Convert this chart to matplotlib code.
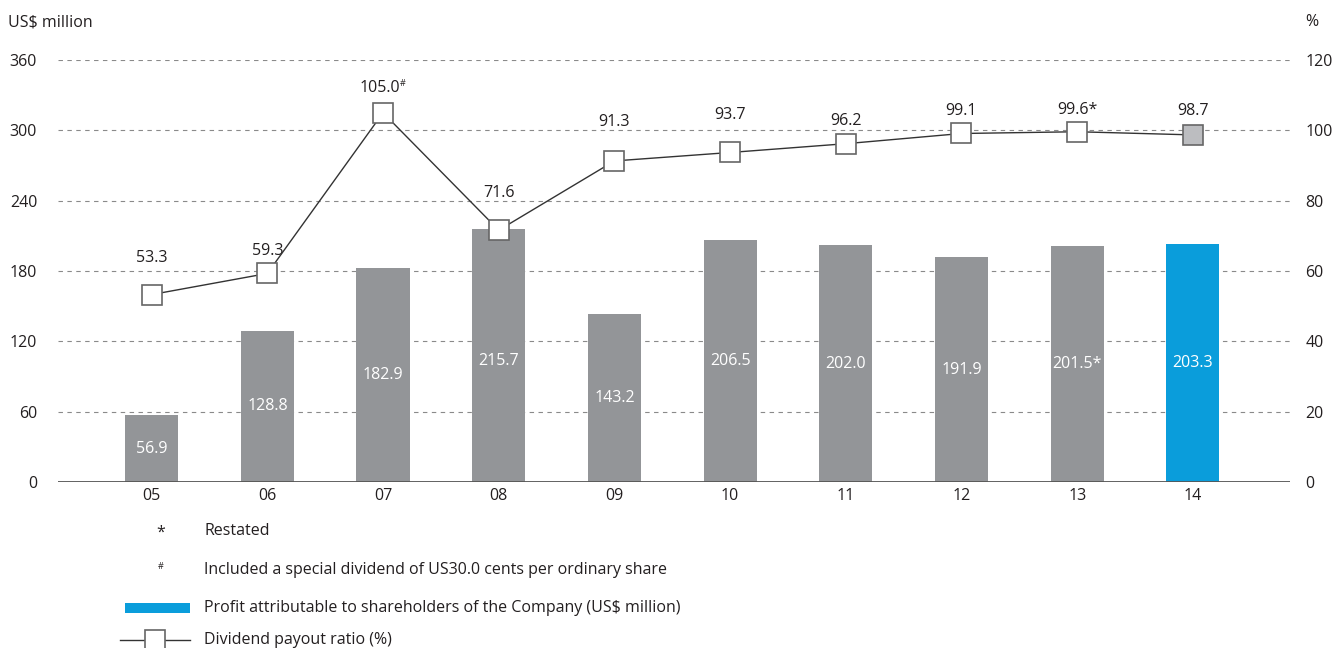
import matplotlib.pyplot as plt
from matplotlib.lines import Line2D
from matplotlib.patches import Rectangle

plt.rcParams['font.family'] = ['Open Sans', 'DejaVu Sans']

# profit and payout data by financial year
years = ["05", "06", "07", "08", "09", "10", "11", "12", "13", "14"]
profit = [56.9, 128.8, 182.9, 215.7, 143.2, 206.5, 202.0, 191.9, 201.5, 203.3]
profit_labels = ["56.9", "128.8", "182.9", "215.7", "143.2", "206.5", "202.0", "191.9", "201.5*", "203.3"]
payout = [53.3, 59.3, 105.0, 71.6, 91.3, 93.7, 96.2, 99.1, 99.6, 98.7]
payout_labels = ["53.3", "59.3", "105.0", "71.6", "91.3", "93.7", "96.2", "99.1", "99.6*", "98.7"]
left_ticks = [0, 60, 120, 180, 240, 300, 360]
right_ticks = [0, 20, 40, 60, 80, 100, 120]

GREY = "#939598"
BLUE = "#0a9ddb"
TEXT = "#231f20"
FS = 11.5

fig = plt.figure(figsize=(13.36, 6.48), dpi=100)
ax = fig.add_axes([0.0434, 0.2562, 0.9222, 0.6512])
ax2 = ax.twinx()

x = list(range(len(years)))
colors = [GREY] * (len(years) - 1) + [BLUE]
ax.bar(x, profit, width=0.46, color=colors, zorder=2)
for xi, v, lab in zip(x, profit, profit_labels):
    ax.text(xi, min(v / 2, 103), lab, ha="center", va="center",
            color="white", fontsize=FS, zorder=3)

ax.set_xlim(-0.81, 9.84)
ax.set_ylim(0, 360)
ax.set_yticks(left_ticks)
ax.set_xticks(x)
ax.set_xticklabels(years)
for t in left_ticks[1:]:
    ax.axhline(t, color="#8a8a8a", lw=0.8, ls=(0, (4, 4)), zorder=1)
ax.axhline(0, color="#555555", lw=1.3, zorder=4)
ax.tick_params(axis="both", length=0, labelsize=FS, labelcolor=TEXT)
ax.tick_params(axis="y", pad=15)
ax.tick_params(axis="x", pad=4)
for s in ax.spines.values():
    s.set_visible(False)
for s in ax2.spines.values():
    s.set_visible(False)

# payout ratio line on the right-hand axis
ax2.set_ylim(0, 120)
ax2.set_yticks(right_ticks)
ax2.tick_params(axis="y", length=0, labelsize=FS, labelcolor=TEXT, pad=11)
ax2.plot(x, payout, color="#333333", lw=1.0, zorder=5)
face = ["white"] * (len(years) - 1) + ["#bcbdc0"]
for xi, v, fc in zip(x, payout, face):
    ax2.plot(xi, v, marker="s", ms=15, mfc=fc, mec="#666666", mew=1.2, zorder=6)

# value labels sit higher where the line rises steeply into the point
label_lift = [26, 16, 18, 27, 28, 27, 16, 16, 16, 17]
label_shift = [0, 0, -2.5, 0, 0, 0, 0, 0, 0, 0]
for xi, v, lab, dy, dx in zip(x, payout, payout_labels, label_lift, label_shift):
    ax2.annotate(lab, (xi, v), xytext=(dx, dy), textcoords="offset points",
                 ha="center", va="center", fontsize=FS, color=TEXT)
ax2.annotate("#", (x[2], payout[2]), xytext=(12, label_lift[2] + 3), textcoords="offset points",
             ha="left", va="center", fontsize=6.5, color=TEXT)

fig.text(0.006, 0.966, "US$ million", fontsize=FS, color=TEXT, va="center")
fig.text(0.977, 0.966, "%", fontsize=FS, color=TEXT, va="center")

# notes and legend beneath the chart
fig.text(0.120, 0.178, "*", fontsize=FS, color=TEXT, ha="center", va="center")
fig.text(0.153, 0.180, "Restated", fontsize=FS, color=TEXT, va="center")
fig.text(0.120, 0.126, "#", fontsize=6.5, color=TEXT, ha="center", va="center")
fig.text(0.153, 0.120, "Included a special dividend of US30.0 cents per ordinary share",
         fontsize=FS, color=TEXT, va="center")
fig.patches.append(Rectangle((0.0935, 0.054), 0.0487, 0.0155, transform=fig.transFigure,
                             facecolor=BLUE, edgecolor="none"))
fig.text(0.153, 0.062, "Profit attributable to shareholders of the Company (US$ million)",
         fontsize=FS, color=TEXT, va="center")
fig.lines.append(Line2D([0.0898, 0.1422], [0.0125, 0.0125], transform=fig.transFigure,
                        color="#333333", lw=1.0))
fig.lines.append(Line2D([0.1160], [0.0125], transform=fig.transFigure, marker="s", ms=15,
                        mfc="white", mec="#666666", mew=1.2))
fig.text(0.153, 0.012, "Dividend payout ratio (%)", fontsize=FS, color=TEXT, va="center")

fig.savefig("out.png", dpi=100)
